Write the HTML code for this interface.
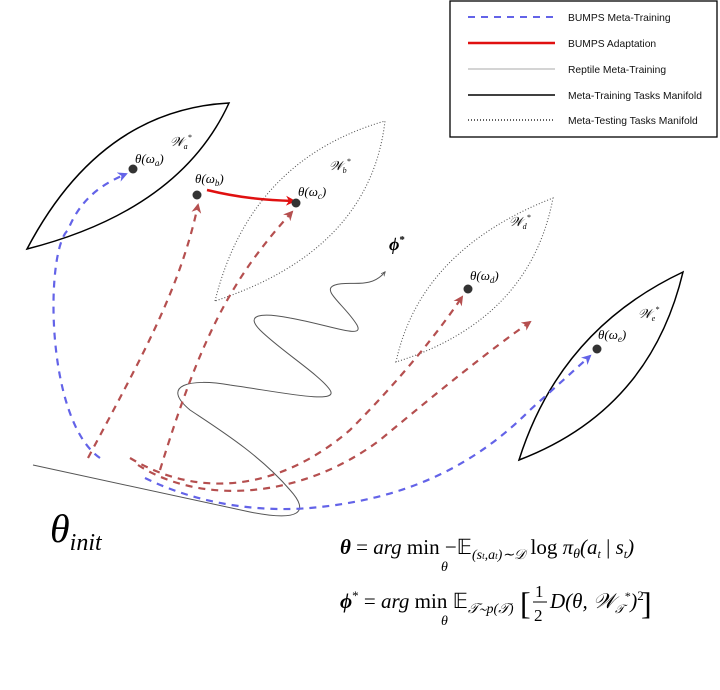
<!DOCTYPE html>
<html><head><meta charset="utf-8"><style>
html,body{margin:0;padding:0;background:#fff;}
svg{display:block;}
.m{font-family:"Liberation Serif",serif;font-style:italic;}
.l{font-family:"Liberation Sans",sans-serif;font-size:10.3px;fill:#111;}
</style></head><body>
<svg width="720" height="690" viewBox="0 0 720 690" xmlns="http://www.w3.org/2000/svg">
<defs>
<marker id="ab" viewBox="0 0 10 10" refX="8" refY="5" markerWidth="4.5" markerHeight="4.5" orient="auto"><path d="M0,0 L10,5 L0,10 L3,5z" fill="#6363e8"/></marker>
<marker id="ar" viewBox="0 0 10 10" refX="8" refY="5" markerWidth="4.5" markerHeight="4.5" orient="auto"><path d="M0,0 L10,5 L0,10 L3,5z" fill="#b54f4f"/></marker>
<marker id="arr" viewBox="0 0 10 10" refX="8" refY="5" markerWidth="4" markerHeight="4" orient="auto"><path d="M0,0 L10,5 L0,10 L3,5z" fill="#e01010"/></marker>
<marker id="ag" viewBox="0 0 10 10" refX="8" refY="5" markerWidth="5" markerHeight="5" orient="auto"><path d="M0,1 L9,5 L0,9" fill="none" stroke="#555" stroke-width="1.5"/></marker>
</defs>
<rect x="450" y="1" width="267" height="136" fill="#fff" stroke="#000" stroke-width="1.3"/>
<line x1="468" y1="17" x2="555" y2="17" stroke="#6363e8" stroke-width="2" stroke-dasharray="7,6"/>
<line x1="468" y1="43" x2="555" y2="43" stroke="#e01010" stroke-width="2.5"/>
<line x1="468" y1="69" x2="555" y2="69" stroke="#aaa" stroke-width="1"/>
<line x1="468" y1="95" x2="555" y2="95" stroke="#000" stroke-width="1.5"/>
<line x1="468" y1="120" x2="555" y2="120" stroke="#000" stroke-width="1.2" stroke-dasharray="1,2"/>
<text class="l" x="568" y="21">BUMPS Meta-Training</text>
<text class="l" x="568" y="47">BUMPS Adaptation</text>
<text class="l" x="568" y="73">Reptile Meta-Training</text>
<text class="l" x="568" y="99">Meta-Training Tasks Manifold</text>
<text class="l" x="568" y="124">Meta-Testing Tasks Manifold</text>
<path d="M27,249 Q100,110 229,103 Q180,210 27,249z" fill="none" stroke="#000" stroke-width="1.5"/>
<path d="M215,301 Q250,160 385,121 Q370,250 215,301z" fill="none" stroke="#555" stroke-width="1.1" stroke-dasharray="1,2"/>
<path d="M396,362 Q420,250 553,198 Q530,320 396,362z" fill="none" stroke="#555" stroke-width="1.1" stroke-dasharray="1,2"/>
<path d="M519,460 Q560,330 683,272 Q650,410 519,460z" fill="none" stroke="#000" stroke-width="1.5"/>
<path d="M33,465 L250,512 C300,522 310,512 290,490 C260,455 220,430 190,410 C160,385 190,378 230,385 C280,392 340,405 330,390 C320,375 280,350 260,330 C245,315 260,312 290,318 C330,325 365,340 357,325 C345,305 320,290 335,285 C350,280 370,290 385,272" fill="none" stroke="#555" stroke-width="1" marker-end="url(#ag)"/>
<path d="M100,458 C45,420 45,250 68,230 C80,200 100,185 126,174" fill="none" stroke="#6363e8" stroke-width="2.2" stroke-dasharray="7,6" marker-end="url(#ab)"/>
<path d="M145,478 C200,505 260,512 310,508 C400,500 470,470 530,410 L590,356" fill="none" stroke="#6363e8" stroke-width="2.2" stroke-dasharray="7,6" marker-end="url(#ab)"/>
<path d="M88,458 C140,360 180,290 198,205" fill="none" stroke="#b54f4f" stroke-width="2.2" stroke-dasharray="7,6" marker-end="url(#ar)"/>
<path d="M160,470 C200,340 230,280 292,212" fill="none" stroke="#b54f4f" stroke-width="2.2" stroke-dasharray="7,6" marker-end="url(#ar)"/>
<path d="M130,458 C200,500 280,490 350,430 C400,380 440,330 462,297" fill="none" stroke="#b54f4f" stroke-width="2.2" stroke-dasharray="7,6" marker-end="url(#ar)"/>
<path d="M138,465 C200,505 300,500 380,440 C440,390 490,350 530,322" fill="none" stroke="#b54f4f" stroke-width="2.2" stroke-dasharray="7,6" marker-end="url(#ar)"/>
<path d="M207,190 C240,198 265,200 294,201" fill="none" stroke="#e01010" stroke-width="2.5" marker-end="url(#arr)"/>
<g fill="#333"><circle cx="133" cy="169" r="4.5"/><circle cx="197" cy="195" r="4.5"/><circle cx="296" cy="203" r="4.5"/><circle cx="468" cy="289" r="4.5"/><circle cx="597" cy="349" r="4.5"/></g>
<g class="m" font-size="13" fill="#000">
<text x="135" y="163">θ(ω<tspan font-size="9" dy="3">a</tspan><tspan dy="-3">)</tspan></text>
<text x="195" y="183">θ(ω<tspan font-size="9" dy="3">b</tspan><tspan dy="-3">)</tspan></text>
<text x="298" y="196">θ(ω<tspan font-size="9" dy="3">c</tspan><tspan dy="-3">)</tspan></text>
<text x="470" y="280">θ(ω<tspan font-size="9" dy="3">d</tspan><tspan dy="-3">)</tspan></text>
<text x="598" y="339">θ(ω<tspan font-size="9" dy="3">e</tspan><tspan dy="-3">)</tspan></text>
<text x="170" y="146">𝒲<tspan font-size="8" dy="3">a</tspan><tspan font-size="8" dy="-9">*</tspan></text>
<text x="329" y="170">𝒲<tspan font-size="8" dy="3">b</tspan><tspan font-size="8" dy="-9">*</tspan></text>
<text x="509" y="226">𝒲<tspan font-size="8" dy="3">d</tspan><tspan font-size="8" dy="-9">*</tspan></text>
<text x="638" y="318">𝒲<tspan font-size="8" dy="3">e</tspan><tspan font-size="8" dy="-9">*</tspan></text>
</g>
<text class="m" x="389" y="250" font-size="18" font-weight="bold">ϕ<tspan font-size="11" dy="-7" font-style="normal">*</tspan></text>
<text class="m" x="50" y="542" font-size="40">θ<tspan font-size="24" dy="8">init</tspan></text>
<g class="m" font-size="21" fill="#000">
<text x="340" y="554"><tspan font-weight="bold">θ</tspan><tspan font-style="normal"> = </tspan>arg<tspan font-style="normal"> min −𝔼</tspan><tspan font-size="14" dy="5">(s<tspan font-size="9">t</tspan>,a<tspan font-size="9">t</tspan>)∼𝒟</tspan><tspan dy="-5" font-style="normal"> log </tspan>π<tspan font-size="14" dy="4">θ</tspan><tspan dy="-4">(a</tspan><tspan font-size="12" dy="4">t</tspan><tspan dy="-4" font-style="normal"> | </tspan>s<tspan font-size="12" dy="4">t</tspan><tspan dy="-4">)</tspan></text>
<text x="441" y="571" font-size="14">θ</text>
<text x="340" y="608"><tspan font-weight="bold">ϕ</tspan><tspan font-size="13" dy="-8" font-style="normal">*</tspan><tspan dy="8" font-style="normal"> = </tspan>arg<tspan font-style="normal"> min 𝔼</tspan><tspan font-size="14" dy="5">𝒯∼p(𝒯)</tspan></text>
<text x="520" y="614" font-size="32" font-style="normal">[</text>
<text x="535" y="597" font-size="17" font-style="normal">1</text>
<line x1="533" y1="602" x2="547" y2="602" stroke="#000" stroke-width="1"/>
<text x="534" y="621" font-size="17" font-style="normal">2</text>
<text x="550" y="608">D(θ, 𝒲<tspan font-size="12" dy="5">𝒯</tspan><tspan font-size="12" dy="-13">*</tspan><tspan dy="8">)</tspan><tspan font-size="13" dy="-8" font-style="normal">2</tspan></text>
<text x="641" y="614" font-size="32" font-style="normal">]</text>
<text x="441" y="625" font-size="14">θ</text>
</g>
</svg>
</body></html>
